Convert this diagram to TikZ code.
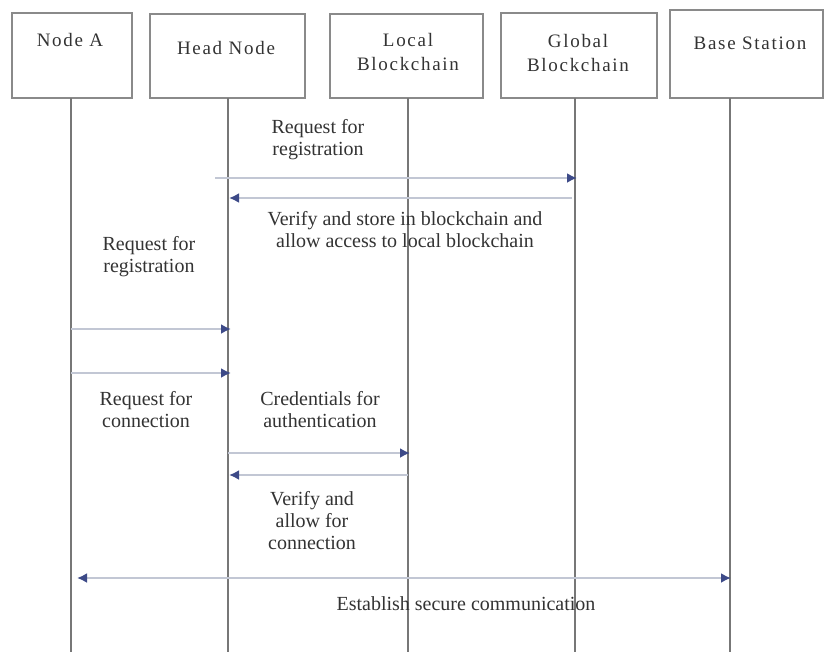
\documentclass[tikz,border=0pt]{standalone}
\usepackage{fontspec}
\setmainfont{Liberation Serif}
\newfontfamily\titlefont[LetterSpace=9]{Liberation Serif}
\usetikzlibrary{arrows.meta}
\definecolor{boxline}{HTML}{8A8A8A}
\definecolor{lifeline}{HTML}{777777}
\definecolor{msgline}{HTML}{C2C7D4}
\definecolor{msghead}{HTML}{3D4A88}
\definecolor{txt}{HTML}{333333}
\tikzset{
  actor/.style={draw=boxline, line width=2pt, fill=white, inner sep=0pt},
  title/.style={text=txt, align=center, font=\titlefont\fontsize{19}{24}\selectfont, inner sep=0pt},
  life/.style={draw=lifeline, line width=1.8pt},
  tip/.style={},
  msg/.style={draw=msgline, line width=2.4pt,
    -{Latex[length=10pt,width=10pt,color=msghead]}},
  dmsg/.style={draw=msgline, line width=2.4pt,
    {Latex[length=10pt,width=10pt,color=msghead]}-{Latex[length=10pt,width=10pt,color=msghead]}},
  lbl/.style={text=txt, align=center, font=\fontsize{20}{22}\selectfont, inner sep=0pt}
}
\begin{document}
\begin{tikzpicture}[x=1pt, y=-1pt]
  \path[fill=white, use as bounding box] (0,0) rectangle (824,656);

  % participant boxes
  \node[actor, minimum width=120pt, minimum height=85pt] (A) at (72,55.5) {};
  \node[actor, minimum width=155pt, minimum height=84pt] (H) at (227.5,56) {};
  \node[actor, minimum width=153pt, minimum height=84pt] (L) at (406.5,56) {};
  \node[actor, minimum width=156pt, minimum height=85pt] (G) at (579,55.5) {};
  \node[actor, minimum width=153pt, minimum height=88pt] (B) at (746.5,54) {};

  \node[title] (At) at (70,40) {Node A};
  \node[title] (Ht) at (226,48) {Head Node};
  \node[title] (Lt) at (408,52) {Local\\Blockchain};
  \node[title] (Gt) at (578,53) {Global\\Blockchain};
  \node[title] (Bt) at (750,43) {Base Station};

  % lifelines
  \coordinate (Atop) at (71,98);   \coordinate (Abot) at (71,652);
  \coordinate (Htop) at (228,98);  \coordinate (Hbot) at (228,652);
  \coordinate (Ltop) at (408,98);  \coordinate (Lbot) at (408,652);
  \coordinate (Gtop) at (575,98);  \coordinate (Gbot) at (575,652);
  \coordinate (Btop) at (730,98);  \coordinate (Bbot) at (730,652);
  \foreach \p in {A,H,L,G,B} \draw[life] (\p top) -- (\p bot);

  % message end points
  \coordinate (m1s) at (215,178); \coordinate (m1e) at (577,178);
  \coordinate (m2s) at (572,198); \coordinate (m2e) at (229,198);
  \coordinate (m3s) at (71,329);  \coordinate (m3e) at (231,329);
  \coordinate (m4s) at (71,373);  \coordinate (m4e) at (231,373);
  \coordinate (m5s) at (228,453); \coordinate (m5e) at (410,453);
  \coordinate (m6s) at (408,475); \coordinate (m6e) at (229,475);
  \coordinate (m7s) at (77,578);  \coordinate (m7e) at (731,578);

  \draw[msg] (m1s) -- (m1e);
  \draw[msg] (m2s) -- (m2e);
  \draw[msg] (m3s) -- (m3e);
  \draw[msg] (m4s) -- (m4e);
  \draw[msg] (m5s) -- (m5e);
  \draw[msg] (m6s) -- (m6e);
  \draw[dmsg] (m7s) -- (m7e);

  % message labels
  \node[lbl] (l1) at (318,140) {Request for\\registration};
  \node[lbl] (l2) at (405,230) {Verify and store in blockchain and\\allow access to local blockchain};
  \node[lbl] (l3) at (149,257) {Request for\\registration};
  \node[lbl] (l4) at (146,410) {Request for\\connection};
  \node[lbl] (l5) at (320,410) {Credentials for\\authentication};
  \node[lbl] (l6) at (312,521) {Verify and\\allow for\\connection};
  \node[lbl] (l7) at (466,604) {Establish secure communication};
\end{tikzpicture}
\end{document}
